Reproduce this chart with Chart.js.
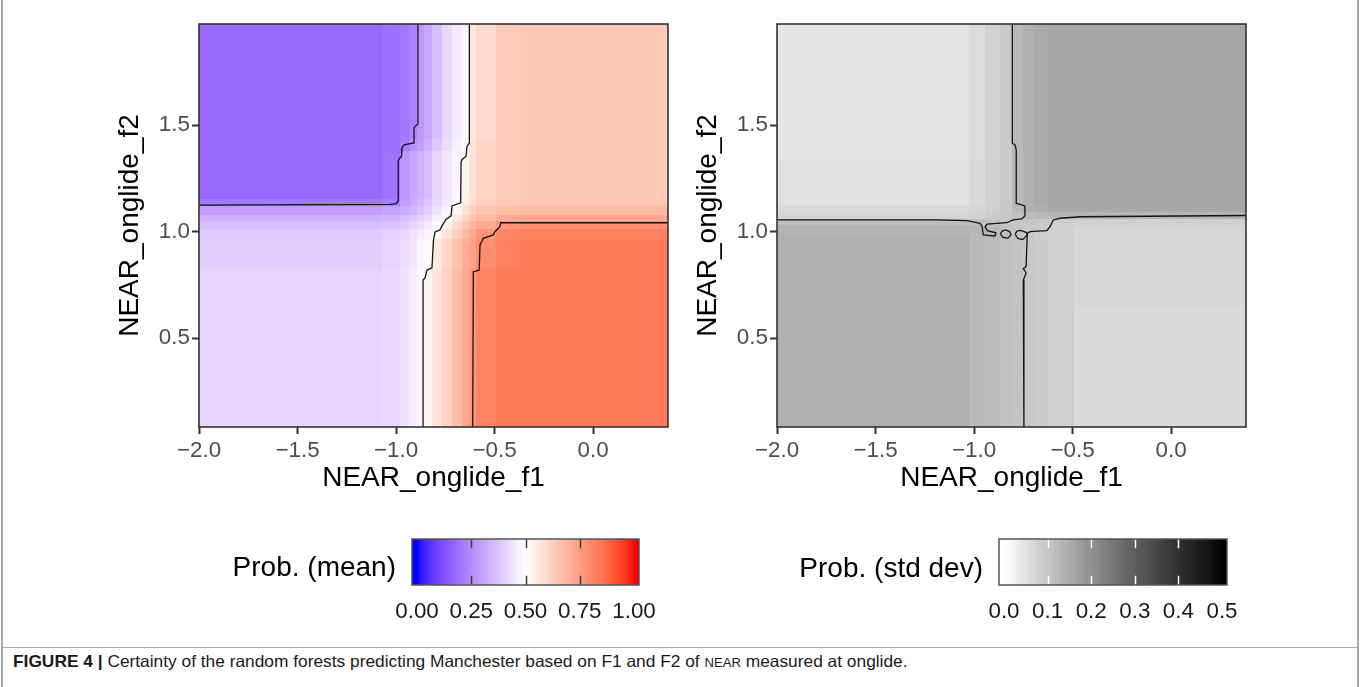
<!DOCTYPE html>
<html>
<head>
<meta charset="utf-8">
<script src="https://cdn.jsdelivr.net/npm/chart.js@4.4.1/dist/chart.umd.min.js"></script>
<style>
  html, body { margin: 0; padding: 0; background: #ffffff; }
  #page { position: relative; width: 1360px; height: 687px; overflow: hidden; background: #ffffff; }
  canvas { position: absolute; top: 0; }
  #meanChart { left: 0; }
  #sdChart { left: 680px; }
  .frame-v { position: absolute; top: 0; width: 0; height: 687px; border-left: 2px solid #a9a9a9; }
  .frame-h { position: absolute; left: 1px; top: 647px; width: 1357px; height: 0; border-top: 1px solid #a9a9a9; }
  #caption {
    position: absolute; left: 13px; top: 653px;
    font-family: 'Liberation Sans', Arial, sans-serif; font-size: 16.5px; line-height: 16px;
    white-space: nowrap; color: #1a1a1a; transform-origin: 0 0; transform: scaleX(1.05);
  }
  #caption .fig { font-weight: bold; }
  #caption .sc { font-size: 12.5px; }
</style>
</head>
<body>
<div id="page">
  <canvas id="meanChart" width="680" height="648"></canvas>
  <canvas id="sdChart" width="680" height="648"></canvas>
  <div class="frame-v" style="left:1px"></div>
  <div class="frame-v" style="left:1357px"></div>
  <div class="frame-h"></div>
  <div id="caption"><span class="fig">FIGURE 4 |</span> Certainty of the random forests predicting Manchester based on F1 and F2 of <span class="sc">NEAR</span> measured at onglide.</div>
</div>
<script>
// ---- Axes -------------------------------------------------------------
const f1Range = [-2.0, 0.38];
const f2Range = [0.084, 1.974];
const f1TickValues = [-2.0, -1.5, -1.0, -0.5, 0.0];
const f1TickLabels = ['\u22122.0', '\u22121.5', '\u22121.0', '\u22120.5', '0.0'];
const f2TickValues = [0.5, 1.0, 1.5];
const f2TickLabels = ['0.5', '1.0', '1.5'];

// ---- Mean predicted probability (cell edges, rows listed top to bottom) --
const meanF1Edges = [-2.0, -1.071, -0.980, -0.929, -0.889, -0.858, -0.813, -0.762, -0.716, -0.665, -0.625, -0.594, -0.488, -0.371, 0.38];
const meanF2Edges = [1.974, 1.430, 1.374, 1.149, 1.116, 1.078, 1.046, 1.008, 0.962, 0.821, 0.084];
const meanProb = [
  [0.18, 0.19, 0.21, 0.23, 0.28, 0.31, 0.36, 0.42, 0.46, 0.49, 0.56, 0.60, 0.63, 0.64],
  [0.18, 0.19, 0.22, 0.26, 0.29, 0.33, 0.38, 0.43, 0.47, 0.51, 0.57, 0.61, 0.63, 0.64],
  [0.18, 0.20, 0.28, 0.31, 0.33, 0.36, 0.41, 0.45, 0.48, 0.53, 0.58, 0.61, 0.63, 0.64],
  [0.21, 0.22, 0.29, 0.32, 0.35, 0.38, 0.42, 0.46, 0.49, 0.55, 0.59, 0.62, 0.64, 0.65],
  [0.29, 0.30, 0.32, 0.34, 0.37, 0.40, 0.44, 0.48, 0.53, 0.58, 0.62, 0.65, 0.67, 0.68],
  [0.33, 0.34, 0.36, 0.38, 0.40, 0.43, 0.47, 0.51, 0.56, 0.61, 0.65, 0.68, 0.71, 0.72],
  [0.36, 0.37, 0.39, 0.41, 0.43, 0.46, 0.49, 0.54, 0.60, 0.65, 0.69, 0.72, 0.77, 0.78],
  [0.39, 0.40, 0.42, 0.44, 0.46, 0.48, 0.52, 0.57, 0.63, 0.68, 0.72, 0.77, 0.81, 0.82],
  [0.40, 0.41, 0.43, 0.45, 0.48, 0.51, 0.56, 0.61, 0.66, 0.71, 0.74, 0.79, 0.82, 0.83],
  [0.41, 0.42, 0.44, 0.46, 0.49, 0.52, 0.57, 0.62, 0.67, 0.72, 0.77, 0.81, 0.83, 0.83]
];

// ---- Standard deviation of the probability ------------------------------
const sdF1Edges = [-2.0, -1.021, -0.944, -0.868, -0.807, -0.747, -0.690, -0.615, -0.488, 0.38];
const sdF2Edges = [1.974, 1.327, 1.125, 1.088, 1.055, 1.027, 0.980, 0.647, 0.084];
const sdProb = [
  [0.047, 0.062, 0.079, 0.093, 0.126, 0.140, 0.150, 0.156, 0.160],
  [0.053, 0.065, 0.080, 0.094, 0.126, 0.140, 0.150, 0.156, 0.160],
  [0.065, 0.072, 0.083, 0.096, 0.120, 0.135, 0.145, 0.152, 0.155],
  [0.075, 0.080, 0.088, 0.098, 0.110, 0.120, 0.128, 0.130, 0.130],
  [0.115, 0.110, 0.105, 0.100, 0.100, 0.100, 0.095, 0.088, 0.082],
  [0.135, 0.128, 0.120, 0.110, 0.105, 0.095, 0.088, 0.080, 0.072],
  [0.140, 0.125, 0.118, 0.112, 0.106, 0.097, 0.090, 0.082, 0.068],
  [0.140, 0.125, 0.118, 0.112, 0.106, 0.097, 0.090, 0.082, 0.063]
];

// ---- Contour lines [f1, f2] ---------------------------------------------
const meanContourLow = [[-0.889, 1.974], [-0.889, 1.505], [-0.904, 1.493], [-0.909, 1.486], [-0.909, 1.416], [-0.960, 1.407], [-0.970, 1.393], [-0.972, 1.355], [-0.985, 1.341], [-0.989, 1.332], [-0.989, 1.144], [-1.000, 1.132], [-1.031, 1.128], [-2.0, 1.125]];
const meanContourMid = [[-0.628, 1.974], [-0.628, 1.416], [-0.640, 1.400], [-0.645, 1.353], [-0.665, 1.339], [-0.670, 1.327], [-0.672, 1.135], [-0.716, 1.121], [-0.721, 1.074], [-0.747, 1.057], [-0.767, 1.027], [-0.777, 1.008], [-0.802, 0.999], [-0.810, 0.961], [-0.818, 0.830], [-0.843, 0.820], [-0.853, 0.783], [-0.863, 0.773], [-0.863, 0.084]];
const meanContourHigh = [[0.38, 1.042], [-0.469, 1.042], [-0.473, 1.023], [-0.498, 1.000], [-0.507, 0.985], [-0.557, 0.969], [-0.574, 0.938], [-0.578, 0.820], [-0.608, 0.812], [-0.611, 0.084]];
const sdContourUpper = [[-2.0, 1.055], [-1.188, 1.055], [-1.036, 1.052], [-0.970, 1.039], [-0.960, 1.027], [-0.953, 0.985], [-0.894, 0.980], [-0.889, 0.995], [-0.933, 1.005], [-0.944, 1.023], [-0.934, 1.036], [-0.834, 1.042], [-0.801, 1.055], [-0.758, 1.060], [-0.742, 1.074], [-0.742, 1.121], [-0.784, 1.133], [-0.787, 1.149], [-0.787, 1.350], [-0.784, 1.383], [-0.792, 1.407], [-0.806, 1.415], [-0.806, 1.974]];
const sdContourLower = [[0.38, 1.076], [-0.462, 1.070], [-0.564, 1.063], [-0.598, 1.055], [-0.615, 1.023], [-0.631, 1.005], [-0.716, 1.000], [-0.730, 0.992], [-0.736, 0.836], [-0.750, 0.828], [-0.736, 0.805], [-0.750, 0.773], [-0.747, 0.084]];
const sdContourRingA = [[-0.866, 0.989], [-0.858, 1.003], [-0.838, 1.008], [-0.818, 0.999], [-0.813, 0.985], [-0.828, 0.970], [-0.853, 0.973], [-0.866, 0.989]];
const sdContourRingB = [[-0.792, 0.989], [-0.782, 1.003], [-0.762, 1.006], [-0.734, 0.996], [-0.731, 0.985], [-0.752, 0.963], [-0.777, 0.968], [-0.792, 0.989]];

// ---- Colour bar keys ------------------------------------------------------
const meanKeyTicks = [0, 0.25, 0.5, 0.75, 1];
const meanKeyLabels = ['0.00', '0.25', '0.50', '0.75', '1.00'];
const sdKeyTicks = [0, 0.1, 0.2, 0.3, 0.4, 0.5];
const sdKeyLabels = ['0.0', '0.1', '0.2', '0.3', '0.4', '0.5'];

// ---- Colour ramps interpolated in CIE Lab ---------------------------------
const WHITE_REF = [0.95047, 1.0, 1.08883];
function toLinear(c) { c /= 255; return c <= 0.04045 ? c / 12.92 : Math.pow((c + 0.055) / 1.055, 2.4); }
function fromLinear(c) {
  c = Math.min(1, Math.max(0, c));
  const v = c <= 0.0031308 ? 12.92 * c : 1.055 * Math.pow(c, 1 / 2.4) - 0.055;
  return Math.round(v * 255);
}
function rgbToLab([r, g, b]) {
  const R = toLinear(r), G = toLinear(g), B = toLinear(b);
  const X = (0.4124564 * R + 0.3575761 * G + 0.1804375 * B) / WHITE_REF[0];
  const Y = (0.2126729 * R + 0.7151522 * G + 0.0721750 * B) / WHITE_REF[1];
  const Z = (0.0193339 * R + 0.1191920 * G + 0.9503041 * B) / WHITE_REF[2];
  const f = t => t > 0.008856 ? Math.cbrt(t) : 7.787 * t + 16 / 116;
  const fx = f(X), fy = f(Y), fz = f(Z);
  return [116 * fy - 16, 500 * (fx - fy), 200 * (fy - fz)];
}
function labToRgb([L, a, b]) {
  const fy = (L + 16) / 116, fx = fy + a / 500, fz = fy - b / 200;
  const inv = t => (t * t * t > 0.008856 ? t * t * t : (t - 16 / 116) / 7.787);
  const X = inv(fx) * WHITE_REF[0], Y = inv(fy) * WHITE_REF[1], Z = inv(fz) * WHITE_REF[2];
  const R = 3.2404542 * X - 1.5371385 * Y - 0.4985314 * Z;
  const G = -0.9692660 * X + 1.8760108 * Y + 0.0415560 * Z;
  const B = 0.0556434 * X - 0.2040259 * Y + 1.0572252 * Z;
  return 'rgb(' + fromLinear(R) + ',' + fromLinear(G) + ',' + fromLinear(B) + ')';
}
function labRamp(stops) {
  const labs = stops.map(rgbToLab);
  const n = labs.length - 1;
  return t => {
    t = Math.min(1, Math.max(0, t));
    const k = Math.min(n - 1, Math.floor(t * n));
    const u = t * n - k;
    const p = labs[k], q = labs[k + 1];
    return labToRgb([p[0] + (q[0] - p[0]) * u, p[1] + (q[1] - p[1]) * u, p[2] + (q[2] - p[2]) * u]);
  };
}
const meanRamp = labRamp([[0, 0, 255], [255, 255, 255], [255, 0, 0]]);
const sdRamp = labRamp([[255, 255, 255], [0, 0, 0]]);
const meanColour = v => meanRamp(v);          // scale limits 0 .. 1, midpoint 0.5
const sdColour = v => sdRamp(v / 0.5);         // scale limits 0 .. 0.5

// ---- Plugins ----------------------------------------------------------------
function heatmapPlugin(xEdges, yEdges, values, colour) {
  return {
    id: 'heatmapCells',
    beforeDatasetsDraw(chart) {
      const { ctx, chartArea, scales: { x, y } } = chart;
      ctx.save();
      ctx.beginPath();
      ctx.rect(chartArea.left, chartArea.top, chartArea.width, chartArea.height);
      ctx.clip();
      values.forEach((row, i) => {
        const yTop = Math.floor(y.getPixelForValue(yEdges[i]));
        const yBot = Math.ceil(y.getPixelForValue(yEdges[i + 1]));
        row.forEach((v, j) => {
          const xL = Math.floor(x.getPixelForValue(xEdges[j]));
          const xR = Math.ceil(x.getPixelForValue(xEdges[j + 1]));
          ctx.fillStyle = colour(v);
          ctx.fillRect(xL, yTop, xR - xL, yBot - yTop);
        });
      });
      ctx.restore();
    },
    afterDatasetsDraw(chart) {
      const { ctx, chartArea } = chart;
      ctx.save();
      ctx.strokeStyle = '#333333';
      ctx.lineWidth = 1.6;
      ctx.strokeRect(chartArea.left, chartArea.top, chartArea.width, chartArea.height);
      ctx.restore();
    }
  };
}

function colourKeyPlugin(key) {
  return {
    id: 'colourKey',
    afterDraw(chart) {
      const { ctx } = chart;
      const { left, right, top, bottom, inset, min, max } = key;
      const span = right - left - 2 * inset;
      const toX = v => left + inset + (v - min) / (max - min) * span;
      ctx.save();
      for (let px = left; px < right; px++) {
        const v = min + (px + 0.5 - left - inset) / span * (max - min);
        ctx.fillStyle = key.colour(v);
        ctx.fillRect(px, top, 1, bottom - top);
      }
      const tickLen = (bottom - top) / 5;
      ctx.strokeStyle = key.tickColour;
      ctx.lineWidth = 1.5;
      key.ticks.forEach(v => {
        if (v === min || v === max) return;
        const x = Math.round(toX(v)) + 0.5;
        ctx.beginPath();
        ctx.moveTo(x, bottom); ctx.lineTo(x, bottom - tickLen);
        ctx.moveTo(x, top); ctx.lineTo(x, top + tickLen);
        ctx.stroke();
      });
      ctx.strokeStyle = '#555555';
      ctx.lineWidth = 1.5;
      ctx.strokeRect(left, top, right - left, bottom - top);
      ctx.fillStyle = '#1a1a1a';
      ctx.font = '22.4px "Liberation Sans", Arial, sans-serif';
      ctx.textAlign = 'center';
      ctx.textBaseline = 'alphabetic';
      key.ticks.forEach((v, i) => ctx.fillText(key.labels[i], toX(v), key.labelBaseline));
      ctx.fillStyle = '#000000';
      ctx.font = '28px "Liberation Sans", Arial, sans-serif';
      ctx.textAlign = 'right';
      ctx.fillText(key.title, left - 16, key.titleBaseline);
      ctx.restore();
    }
  };
}

// ---- Chart factory -----------------------------------------------------------
Chart.defaults.font.family = "'Liberation Sans', Arial, sans-serif";

function buildPanel(canvasId, contours, padding, heat, key) {
  return new Chart(document.getElementById(canvasId), {
    type: 'scatter',
    data: {
      datasets: contours.map(pts => ({
        data: pts.map(([x, y]) => ({ x, y })),
        showLine: true,
        borderColor: '#141414',
        borderWidth: 1.3,
        pointRadius: 0,
        pointHoverRadius: 0,
        fill: false,
        tension: 0
      }))
    },
    options: {
      responsive: false,
      animation: false,
      devicePixelRatio: 1,
      layout: { padding },
      plugins: { legend: { display: false }, tooltip: { enabled: false } },
      scales: {
        x: {
          type: 'linear',
          min: f1Range[0],
          max: f1Range[1],
          afterBuildTicks: s => { s.ticks = f1TickValues.map(value => ({ value })); },
          afterFit: s => { s.height = 80; },
          ticks: {
            callback: (value, index) => f1TickLabels[index],
            color: '#4d4d4d',
            font: { size: 22.4 },
            padding: 3.5,
            maxRotation: 0,
            autoSkip: false
          },
          grid: { drawOnChartArea: false, drawTicks: true, tickLength: 7, tickWidth: 2, tickColor: '#333333' },
          border: { display: false },
          title: { display: true, text: 'NEAR_onglide_f1', color: '#000000', font: { size: 28 }, padding: { top: 0, bottom: 12 } }
        },
        y: {
          type: 'linear',
          min: f2Range[0],
          max: f2Range[1],
          afterBuildTicks: s => { s.ticks = f2TickValues.map(value => ({ value })); },
          afterFit: s => { s.width = 97; },
          ticks: {
            callback: (value, index) => f2TickLabels[index],
            color: '#4d4d4d',
            font: { size: 22.4 },
            padding: 2,
            autoSkip: false
          },
          grid: { drawOnChartArea: false, drawTicks: true, tickLength: 7, tickWidth: 2, tickColor: '#333333' },
          border: { display: false },
          title: { display: true, text: 'NEAR_onglide_f2', color: '#000000', font: { size: 28 }, padding: { top: 11, bottom: 0 } }
        }
      }
    },
    plugins: [heat, colourKeyPlugin(key)]
  });
}

buildPanel(
  'meanChart',
  [meanContourLow, meanContourMid, meanContourHigh],
  { left: 102, top: 24, right: 12, bottom: 141 },
  heatmapPlugin(meanF1Edges, meanF2Edges, meanProb, meanColour),
  { left: 412, right: 639, top: 539, bottom: 585, inset: 5, min: 0, max: 1,
    ticks: meanKeyTicks, labels: meanKeyLabels, colour: meanColour, tickColour: '#3c3c3c',
    title: 'Prob. (mean)', titleBaseline: 576, labelBaseline: 618 }
);

buildPanel(
  'sdChart',
  [sdContourUpper, sdContourLower, sdContourRingA, sdContourRingB],
  { left: 0, top: 24, right: 114, bottom: 141 },
  heatmapPlugin(sdF1Edges, sdF2Edges, sdProb, sdColour),
  { left: 319, right: 547, top: 539, bottom: 585, inset: 5, min: 0, max: 0.5,
    ticks: sdKeyTicks, labels: sdKeyLabels, colour: sdColour, tickColour: '#ffffff',
    title: 'Prob. (std dev)', titleBaseline: 577, labelBaseline: 618 }
);
</script>
</body>
</html>
